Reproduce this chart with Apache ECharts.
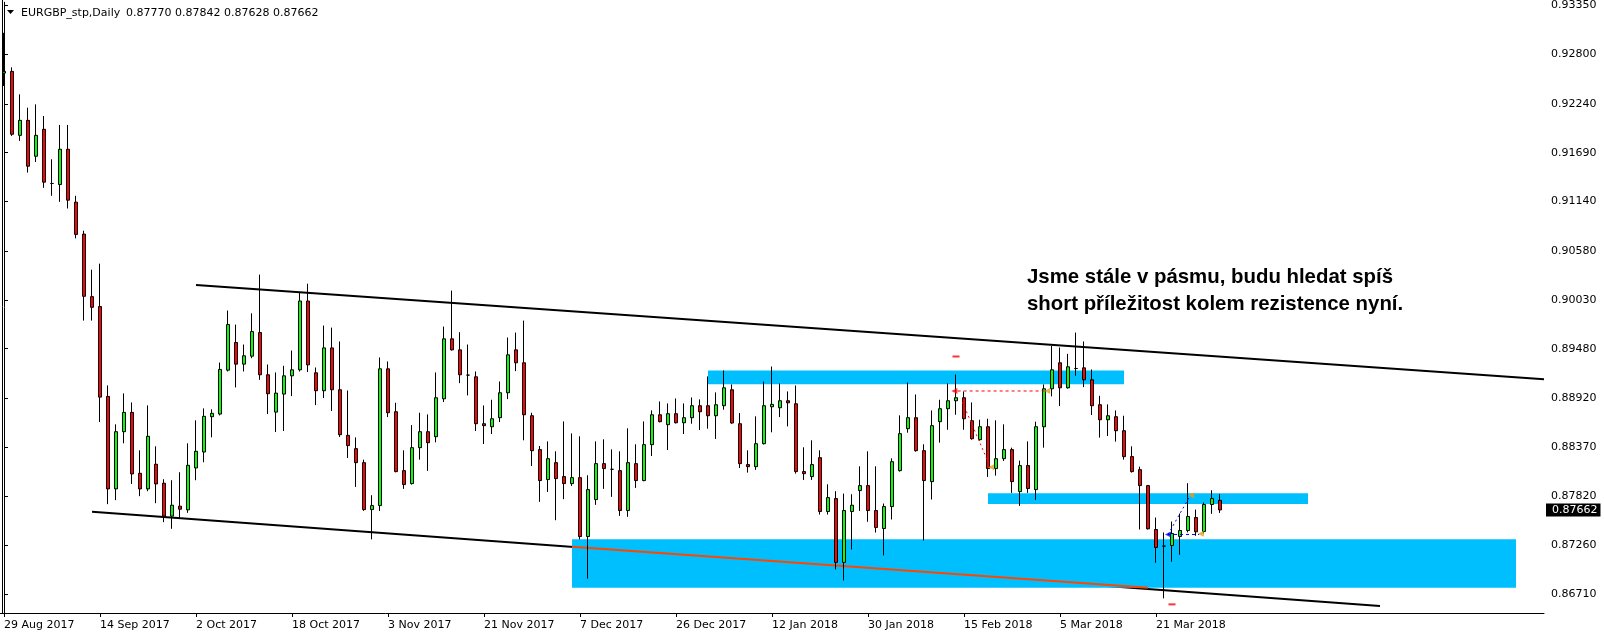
<!DOCTYPE html>
<html><head><meta charset="utf-8">
<script src="https://cdn.jsdelivr.net/npm/echarts@6/dist/echarts.min.js"></script>
<style>html,body{margin:0;padding:0;background:#fff}#c{width:1604px;height:637px}</style>
</head><body><div id="c"></div>
<script>
// ---- data (EURGBP daily) ----
const symbolTitle = 'EURGBP_stp,Daily';
const lastQuote = '0.87770 0.87842 0.87628 0.87662';
const firstDate = [2017, 7, 29];
const holidays = ['2017-12-25', '2018-01-01'];
const futureBars = 40;
const labelEvery = 12;

const opens = [0.92588,0.92607,0.91886,0.92055,0.91650,0.91954,0.91343,0.91331,0.91729,0.91132,
0.90772,0.90067,0.89955,0.88942,0.87899,0.88544,0.88762,0.88075,0.87899,0.88177,
0.87963,0.87592,0.87704,0.87663,0.88135,0.88315,0.88713,0.88743,0.89238,0.89550,
0.89306,0.89396,0.89662,0.89186,0.88765,0.88968,0.89174,0.89242,0.90018,0.89208,
0.89006,0.89489,0.89017,0.88503,0.88353,0.88195,0.87666,0.87711,0.89253,0.88769,
0.88105,0.87959,0.88364,0.88544,0.88488,0.88915,0.89591,0.89467,0.89182,0.89163,
0.88634,0.88600,0.88702,0.88983,0.89467,0.89321,0.88724,0.88342,0.88004,0.88195,
0.88038,0.87959,0.88026,0.87362,0.87779,0.88184,0.88120,0.88105,0.87655,0.88184,
0.87993,0.88398,0.88735,0.88623,0.88747,0.88645,0.88702,0.88837,0.88837,0.88724,
0.88837,0.89017,0.88634,0.88173,0.88150,0.88409,0.88825,0.88814,0.88893,0.88859,
0.88094,0.88038,0.88251,0.87644,0.87790,0.87070,0.87644,0.87880,0.87936,0.87655,
0.87452,0.87700,0.88105,0.88578,0.88702,0.88330,0.87981,0.88657,0.88803,0.88893,
0.88927,0.88668,0.88454,0.88600,0.88128,0.88240,0.88342,0.87869,0.88162,0.87891,
0.88600,0.89028,0.89321,0.89039,0.89257,0.89264,0.89129,0.88848,0.88679,0.88713,
0.88555,0.88263,0.88116,0.87936,0.87441,0.87254,0.87261,0.87363,0.87430,0.87576,
0.87419,0.87723,0.87770];
const highs = [0.93042,0.92652,0.92348,0.92198,0.92235,0.92104,0.91616,0.92003,0.92003,0.91204,
0.90810,0.90371,0.90439,0.89066,0.88627,0.88976,0.88874,0.88334,0.88841,0.88379,
0.88008,0.87997,0.88087,0.88413,0.88672,0.88807,0.88796,0.89324,0.89910,0.89752,
0.89527,0.89879,0.90315,0.89302,0.89212,0.89287,0.89459,0.90116,0.90213,0.89268,
0.89741,0.89718,0.89561,0.89009,0.88480,0.88229,0.87828,0.89381,0.89336,0.88870,
0.88334,0.88619,0.88758,0.88739,0.89212,0.89729,0.90135,0.89666,0.89527,0.89223,
0.88840,0.88904,0.89110,0.89606,0.89662,0.89797,0.88758,0.88383,0.88435,0.88323,
0.88660,0.88525,0.88492,0.88053,0.88435,0.88458,0.88345,0.88323,0.88582,0.88402,
0.88660,0.88784,0.88885,0.88863,0.88919,0.88863,0.88930,0.88908,0.89167,0.88987,
0.89234,0.89077,0.88754,0.88334,0.88717,0.89110,0.89279,0.89088,0.88998,0.89065,
0.88368,0.88447,0.88334,0.87951,0.87873,0.87846,0.87839,0.88154,0.88323,0.88154,
0.87734,0.88244,0.88728,0.89099,0.88964,0.88402,0.88784,0.88904,0.89088,0.89189,
0.88998,0.88874,0.88679,0.88690,0.88672,0.88627,0.88364,0.88218,0.88435,0.88657,
0.89077,0.89512,0.89493,0.89422,0.89662,0.89561,0.89246,0.88949,0.88852,0.88784,
0.88724,0.88379,0.88150,0.87944,0.87576,0.87408,0.87531,0.87621,0.87963,0.87666,
0.87745,0.87884,0.87842];
const lows = [0.92442,0.91879,0.91823,0.91466,0.91586,0.91294,0.91204,0.91136,0.91061,0.90724,
0.89797,0.89797,0.88653,0.87727,0.87772,0.88413,0.87955,0.87817,0.87873,0.87738,
0.87524,0.87449,0.87569,0.87629,0.87997,0.88199,0.88481,0.88728,0.89223,0.89043,
0.89223,0.89373,0.89129,0.88743,0.88540,0.88552,0.88945,0.89223,0.89216,0.88844,
0.88923,0.88777,0.88484,0.88248,0.87921,0.87651,0.87330,0.87651,0.88709,0.88086,
0.87899,0.87948,0.88229,0.88102,0.88424,0.88878,0.89459,0.89092,0.88953,0.88552,
0.88405,0.88518,0.88653,0.88912,0.89227,0.88447,0.88158,0.87753,0.87865,0.87546,
0.87783,0.87933,0.87329,0.86886,0.87719,0.87899,0.87809,0.87595,0.87584,0.87910,
0.87985,0.88270,0.88649,0.88338,0.88637,0.88518,0.88634,0.88563,0.88578,0.88462,
0.88792,0.88634,0.88135,0.88083,0.88113,0.88400,0.88537,0.88709,0.88604,0.88071,
0.88000,0.88000,0.87610,0.87610,0.86991,0.86867,0.87216,0.87651,0.87528,0.87407,
0.87149,0.87554,0.88094,0.88533,0.88319,0.87317,0.87779,0.88420,0.88566,0.88735,
0.88566,0.88454,0.88443,0.88034,0.88049,0.88214,0.87854,0.87708,0.87854,0.87775,
0.88364,0.88942,0.88833,0.89030,0.89174,0.89047,0.88732,0.88477,0.88495,0.88432,
0.88229,0.88083,0.87441,0.87441,0.87066,0.86665,0.87077,0.87156,0.87408,0.87370,
0.87396,0.87618,0.87628];
const closes = [0.92607,0.91898,0.92055,0.91538,0.91886,0.91358,0.91343,0.91729,0.91155,0.90769,
0.90071,0.89947,0.88934,0.87899,0.88544,0.88762,0.88068,0.87899,0.88492,0.87955,
0.87592,0.87715,0.87670,0.88165,0.88323,0.88717,0.88751,0.89246,0.89752,0.89306,
0.89400,0.89673,0.89186,0.88972,0.88979,0.89174,0.89242,0.90018,0.89298,0.89006,
0.89489,0.89017,0.88510,0.88387,0.88195,0.87666,0.87711,0.89253,0.88758,0.88094,
0.87948,0.88364,0.88544,0.88420,0.88927,0.89591,0.89467,0.89186,0.89182,0.88634,
0.88612,0.88690,0.88983,0.89411,0.89321,0.88735,0.88330,0.87993,0.88240,0.88015,
0.87959,0.88026,0.87362,0.87891,0.88184,0.88128,0.88120,0.87655,0.88195,0.87993,
0.88398,0.88735,0.88657,0.88747,0.88645,0.88702,0.88837,0.88769,0.88724,0.88848,
0.89039,0.88642,0.88184,0.88150,0.88409,0.88837,0.88852,0.88893,0.88870,0.88094,
0.88071,0.88173,0.87644,0.87801,0.87070,0.87655,0.87715,0.87936,0.87655,0.87464,
0.87700,0.88206,0.88522,0.88702,0.88330,0.87993,0.88612,0.88803,0.88893,0.88927,
0.88690,0.88465,0.88600,0.88128,0.88240,0.88342,0.87981,0.88162,0.87903,0.88600,
0.89028,0.89242,0.89039,0.89276,0.89257,0.89129,0.88837,0.88679,0.88724,0.88555,
0.88263,0.88094,0.87936,0.87449,0.87239,0.87254,0.87396,0.87430,0.87588,0.87415,
0.87723,0.87790,0.87662];

// price scale ticks shown on the right
const priceTicks = [0.93350,0.92800,0.92240,0.91690,0.91140,0.90580,0.90030,0.89480,0.88920,0.88370,0.87820,0.87260,0.86710];
const currentPrice = 0.87662;
const yMin = 0.864996, yMax = 0.933868;

// drawn objects: [barIndex, price]
const upperTrend = [[24, 0.90198], [192.5, 0.89136]];
const lowerTrend = [[11, 0.87640], [172, 0.86579]];
const redTrend = [[71, 0.87246], [143, 0.86784]];
// zones: [fromBar, topPrice, toBar, bottomPrice]
const zones = [[88, 0.89234, 140, 0.89080], [123, 0.87850, 163, 0.87730], [71, 0.87332, 189, 0.86784]];
const redTradeH = [[119.2, 0.89003], [130.2, 0.89003]];
const redTradeD = [[119.8, 0.88877], [123.3, 0.88143]];
const blueTradeD = [[145.5, 0.87385], [148.3, 0.87827]];
const blueTradeH = [[145.5, 0.87385], [149.4, 0.87385]];
const redDashMarks = [[119, 0.89392], [146, 0.86597]];
const closeMarks = [[130.4, 0.89003], [123.4, 0.88143], [148.4, 0.87827], [149.6, 0.87394]];
const redArrow = [[118.8, 0.89003]];
const blueArrow = [[145.5, 0.87385]];
const noteText = 'Jsme stále v pásmu, budu hledat spíš\nshort příležitost kolem rezistence nyní.';

// ---- categories ----
const monthNames = ['Jan','Feb','Mar','Apr','May','Jun','Jul','Aug','Sep','Oct','Nov','Dec'];
const dates = [];
(function () {
  let t = Date.UTC(firstDate[0], firstDate[1], firstDate[2]);
  while (dates.length < opens.length) {
    const d = new Date(t);
    const dow = d.getUTCDay();
    const iso = d.toISOString().slice(0, 10);
    if (dow !== 0 && dow !== 6 && holidays.indexOf(iso) < 0) {
      dates.push(d.getUTCDate() + ' ' + monthNames[d.getUTCMonth()] + ' ' + d.getUTCFullYear());
    }
    t += 86400000;
  }
})();
const categories = dates.slice();
for (let i = 0; i < futureBars; i++) categories.push('f' + i);
const nBars = opens.length;
const showIdx = (i) => i % labelEvery === 0 && i < nBars;

const candleData = opens.map((o, i) => [o, closes[i], lows[i], highs[i]]);
const FONT = 'DejaVu Sans';

function lineSeries(data, color, width, type, z) {
  return { type: 'line', xAxisIndex: 1, yAxisIndex: 0, data: data, symbol: 'none', silent: true,
    lineStyle: { color: color, width: width, type: type }, z: z, animation: false };
}

const chart = echarts.init(document.getElementById('c'), null, { renderer: 'canvas' });
chart.setOption({
  animation: false,
  backgroundColor: '#fff',
  grid: { left: -1, right: 60, top: 1, bottom: 24 },
  xAxis: [{
    type: 'category', data: categories, boundaryGap: true,
    axisLine: { show: true, lineStyle: { color: '#000', width: 1 } },
    axisTick: { show: true, alignWithLabel: true, length: 4, interval: (i) => showIdx(i), lineStyle: { color: '#000' } },
    axisLabel: { interval: (i) => showIdx(i), align: 'left', margin: 7, color: '#000', fontFamily: FONT, fontSize: 11,
      formatter: (v, i) => showIdx(i) ? v : '' },
    splitLine: { show: false }
  }, {
    type: 'value', min: -0.5, max: nBars + futureBars - 0.5, show: false, gridIndex: 0
  }],
  yAxis: [{
    type: 'value', position: 'right', min: yMin, max: yMax, scale: true,
    axisLine: { show: true, lineStyle: { color: '#000', width: 1 } },
    axisTick: { show: true, length: 4, customValues: priceTicks, lineStyle: { color: '#000' } },
    axisLabel: { customValues: priceTicks, margin: 7, color: '#000', fontFamily: FONT, fontSize: 11,
      padding: [4, 0, 0, 0], formatter: (v) => v.toFixed(5) },
    splitLine: { show: false }
  }, {
    type: 'value', position: 'right', min: yMin, max: yMax, scale: true,
    axisLine: { show: false }, axisTick: { show: false }, splitLine: { show: false },
    axisLabel: { customValues: [currentPrice], margin: 2, color: '#fff', backgroundColor: '#000',
      padding: [2, 3, 0, 6], fontFamily: FONT, fontSize: 11, formatter: (v) => v.toFixed(5) }
  }],
  series: [
    lineSeries(upperTrend, '#000', 2, 'solid', 0),
    lineSeries(lowerTrend, '#000', 2, 'solid', 0),
    {
      type: 'custom', xAxisIndex: 1, yAxisIndex: 0, data: zones, z: 1, silent: true,
      encode: { x: [0, 2], y: [1, 3] },
      renderItem: function (params, api) {
        const p1 = api.coord([api.value(0), api.value(1)]);
        const p2 = api.coord([api.value(2), api.value(3)]);
        return { type: 'rect', shape: { x: Math.min(p1[0], p2[0]), y: Math.min(p1[1], p2[1]),
          width: Math.abs(p2[0] - p1[0]), height: Math.abs(p2[1] - p1[1]) }, style: { fill: '#00BFFF' } };
      }
    },
    lineSeries(redTrend, '#ff4500', 2, 'solid', 2),
    {
      type: 'candlestick', xAxisIndex: 0, yAxisIndex: 0, data: candleData, barWidth: 4, z: 3,
      itemStyle: { color: '#00ff00', color0: '#ff0000', borderColor: '#000', borderColor0: '#000', borderWidth: 1 },
      silent: true
    },
    lineSeries(redTradeH, '#ff0000', 1, [3, 3], 5),
    lineSeries(redTradeD, '#ff0000', 1, [2, 3], 5),
    lineSeries(blueTradeD, '#0000ff', 1, [2, 3], 5),
    lineSeries(blueTradeH, '#0000ff', 1, [3, 3], 5),
    { type: 'scatter', xAxisIndex: 1, yAxisIndex: 0, data: redDashMarks, symbol: 'rect', symbolSize: [7, 2],
      itemStyle: { color: '#ff0000' }, z: 6, silent: true },
    { type: 'scatter', xAxisIndex: 1, yAxisIndex: 0, data: closeMarks, symbol: 'triangle', symbolSize: 6, symbolRotate: 90,
      itemStyle: { color: '#e0a020' }, z: 6, silent: true },
    { type: 'scatter', xAxisIndex: 1, yAxisIndex: 0, data: redArrow, symbol: 'triangle', symbolSize: 6, symbolRotate: 90,
      itemStyle: { color: '#ff0000' }, z: 6, silent: true },
    { type: 'scatter', xAxisIndex: 1, yAxisIndex: 0, data: blueArrow, symbol: 'triangle', symbolSize: 6, symbolRotate: 90,
      itemStyle: { color: '#0000ff' }, z: 6, silent: true }
  ],
  graphic: [
    { type: 'line', shape: { x1: 2.5, y1: 0, x2: 2.5, y2: 613 }, style: { stroke: '#000', lineWidth: 1 }, z: 10 },
    { type: 'polygon', shape: { points: [[7, 10], [14, 10], [10.5, 14]] }, style: { fill: '#000' }, z: 10 },
    { type: 'text', x: 21, y: 13, style: { text: symbolTitle, fill: '#000', font: '11px "DejaVu Sans"', verticalAlign: 'middle' }, z: 10 },
    { type: 'text', x: 126, y: 13, style: { text: lastQuote, fill: '#000', font: '11px "DejaVu Sans"', verticalAlign: 'middle' }, z: 10 },
    { type: 'text', x: 1027, y: 264, style: { text: noteText, fill: '#000', font: 'bold 20.4px "Liberation Sans"', lineHeight: 27, verticalAlign: 'top' }, z: 10 }
  ]
});
</script>
</body></html>
